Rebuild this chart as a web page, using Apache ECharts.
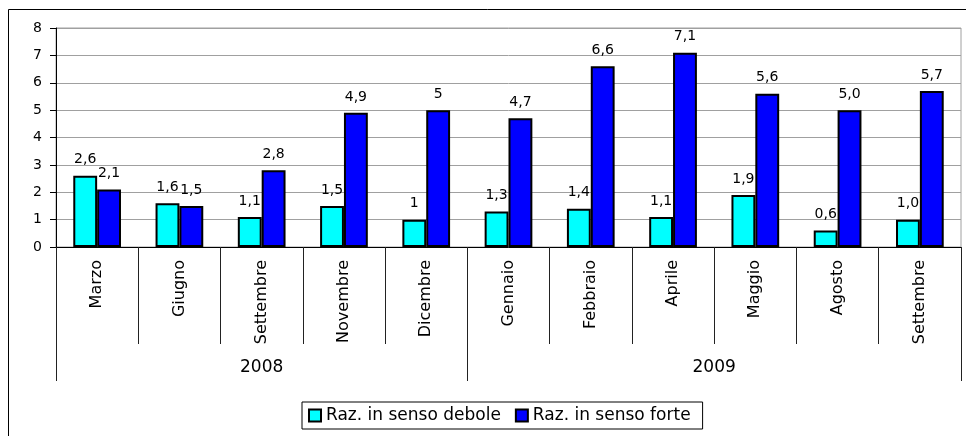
<!DOCTYPE html>
<html>
<head>
<meta charset="utf-8">
<style>
  html, body { margin: 0; padding: 0; background: #fff; }
  #chart { width: 966px; height: 436px; }
</style>
</head>
<body>
<div id="chart"></div>
<script src="https://cdn.jsdelivr.net/npm/echarts@6/dist/echarts.min.js"></script>
<script>
var months = ['Marzo', 'Giugno', 'Settembre', 'Novembre', 'Dicembre',
              'Gennaio', 'Febbraio', 'Aprile', 'Maggio', 'Agosto', 'Settembre'];
var years = ['2008', '2009'];
var yearSpans = [5, 6];

var weakName = 'Raz. in senso debole';
var strongName = 'Raz. in senso forte';
var weakValues = [2.6, 1.6, 1.1, 1.5, 1, 1.3, 1.4, 1.1, 1.9, 0.6, 1.0];
var strongValues = [2.1, 1.5, 2.8, 4.9, 5, 4.7, 6.6, 7.1, 5.6, 5.0, 5.7];
var weakLabels = ['2,6', '1,6', '1,1', '1,5', '1', '1,3', '1,4', '1,1', '1,9', '0,6', '1,0'];
var strongLabels = ['2,1', '1,5', '2,8', '4,9', '5', '4,7', '6,6', '7,1', '5,6', '5,0', '5,7'];

// year group boundaries and centres on a 0..months.length scale
var yearBounds = [0];
var yearCenters = [];
yearSpans.forEach(function (s, i) {
    var start = yearBounds[i];
    yearBounds.push(start + s);
    yearCenters.push(start + s / 2);
});
// month boundaries on the same scale
var monthBounds = [];
for (var k = 0; k <= months.length; k++) monthBounds.push(k);

var FONT = 'DejaVu Sans';
var chart = echarts.init(document.getElementById('chart'));

function barLabel(texts) {
    return {
        show: true,
        position: 'top',
        distance: 9,
        fontFamily: FONT,
        fontSize: 14,
        color: '#000',
        formatter: function (p) { return texts[p.dataIndex]; }
    };
}

var option = {
    backgroundColor: '#fff',
    animation: false,
    graphic: [{
        type: 'rect',
        shape: { x: 8.5, y: 9.5, width: 1000, height: 1000 },
        style: { fill: 'none', stroke: '#000', lineWidth: 1 },
        silent: true
    }],
    legend: {
        left: 302,
        top: 402,
        padding: [5, 12, 5, 6],
        itemGap: 14,
        itemWidth: 12,
        itemHeight: 12,
        borderColor: '#000',
        borderWidth: 1,
        textStyle: { fontFamily: FONT, fontSize: 17, color: '#000' },
        data: [
            { name: weakName, icon: 'rect' },
            { name: strongName, icon: 'rect' }
        ]
    },
    grid: {
        left: 56,
        right: 5,
        top: 28,
        bottom: 189,
        show: true,
        borderColor: '#a0a0a0',
        borderWidth: 1
    },
    xAxis: [{
        type: 'category',
        data: months,
        boundaryGap: true,
        axisLine: { lineStyle: { color: '#000', width: 1 } },
        axisTick: { show: false },
        axisLabel: {
            interval: 0,
            rotate: 90,
            margin: 13,
            fontFamily: FONT,
            fontSize: 16,
            color: '#000'
        },
        splitLine: { show: false }
    }, {
        // month separators
        type: 'value',
        position: 'bottom',
        min: 0,
        max: months.length,
        axisLine: { show: false },
        axisTick: { show: true, customValues: monthBounds, length: 97, lineStyle: { color: '#222' } },
        axisLabel: { show: false },
        splitLine: { show: false }
    }, {
        // year groups
        type: 'value',
        position: 'bottom',
        min: 0,
        max: months.length,
        axisLine: { show: false },
        axisTick: { show: true, customValues: yearBounds, length: 134, lineStyle: { color: '#222' } },
        axisLabel: {
            customValues: yearCenters,
            margin: 112,
            fontFamily: FONT,
            fontSize: 17,
            color: '#000',
            formatter: function (v) {
                var i = yearCenters.indexOf(v);
                return i >= 0 ? years[i] : '';
            }
        },
        splitLine: { show: false }
    }],
    yAxis: {
        type: 'value',
        min: 0,
        max: 8,
        interval: 1,
        axisLine: { show: true, lineStyle: { color: '#000', width: 1 } },
        axisTick: { show: true, length: 6, lineStyle: { color: '#000' } },
        axisLabel: { margin: 14, fontFamily: FONT, fontSize: 14, color: '#000' },
        splitLine: { lineStyle: { color: '#a0a0a0', width: 1 } }
    },
    series: [{
        name: weakName,
        type: 'bar',
        xAxisIndex: 0,
        data: weakValues,
        barGap: '0%',
        barCategoryGap: '42%',
        itemStyle: { color: '#00ffff', borderColor: '#000', borderWidth: 2 },
        label: barLabel(weakLabels)
    }, {
        name: strongName,
        type: 'bar',
        xAxisIndex: 0,
        data: strongValues,
        barGap: '0%',
        barCategoryGap: '42%',
        itemStyle: { color: '#0000ff', borderColor: '#000', borderWidth: 2 },
        label: barLabel(strongLabels)
    }]
};

chart.setOption(option);
</script>
</body>
</html>
